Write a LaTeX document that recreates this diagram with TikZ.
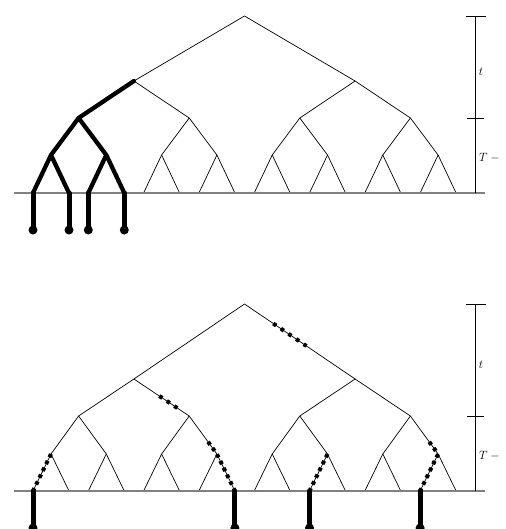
\documentclass[tikz,border=0pt]{standalone}
\usepackage{tikz}
\usetikzlibrary{calc}
\tikzset{
  % thin branch of the tree
  branch/.style={black, line width=0.7pt},
  % heavy line = followed family
  lineage/.style={black, line width=4.3pt, line join=round, line cap=round},
  % dotted heavy line = single lines of descent
  dotlineage/.style={black, line width=4pt, dash pattern=on 3.6pt off 4pt},
  % stem hanging below a leaf
  stem/.style={black, line width=5pt, line cap=round},
  tip/.style={circle, fill=black, inner sep=0pt, minimum size=9pt},
  ground/.style={black!50, line width=1.1pt},
  scalebar/.style={black, line width=0.7pt},
  scalelabel/.style={font=\fontsize{13}{15}\selectfont},
}
% binary tree of depth 4: #1 name prefix, #2..#6 heights of the levels
\newcommand{\bintree}[6]{%
  \coordinate (#1r) at (244.5,#2);
  \foreach \i in {0,1}
    \coordinate (#1a\i) at ({133.9+221.2*\i},#3);
  \foreach \i in {0,...,3}
    \coordinate (#1b\i) at ({78.6+110.6*\i},#4);
  \foreach \i in {0,...,7}
    \coordinate (#1c\i) at ({51+55.3*\i},#5);
  \foreach \i in {0,...,15}
    \coordinate (#1d\i) at ({51+55.3*int(\i/2)+36*mod(\i,2)-18},#6);
  \foreach \i in {0,1}
    \draw[branch] (#1r) -- (#1a\i);
  \foreach \i in {0,...,3}{
    \pgfmathtruncatemacro{\pidx}{\i/2}
    \draw[branch] (#1a\pidx) -- (#1b\i);}
  \foreach \i in {0,...,7}{
    \pgfmathtruncatemacro{\pidx}{\i/2}
    \draw[branch] (#1b\pidx) -- (#1c\i);}
  \foreach \i in {0,...,15}{
    \pgfmathtruncatemacro{\pidx}{\i/2}
    \draw[branch] (#1c\pidx) -- (#1d\i);}
  \draw[ground] (14,#6) -- (485,#6);
  % time scale on the right
  \draw[scalebar] (475,#2) -- (475,#6)
    (466,#2) -- (486,#2) (467,#4) -- (484,#4);
  \node[scalelabel] (#1t) at (481,{(#2+#4)/2+5}) {$t$};
  \node[scalelabel, anchor=west, inner sep=0pt] (#1T) at (479,{(#4+#6)/2+2}) {$T-{}$};
}

\begin{document}
\begin{tikzpicture}[x=1pt,y=-1pt]
  \useasboundingbox (0,0) rectangle (505,529);
  \bintree{u}{16}{81}{118}{155}{193}
  \bintree{w}{304}{379}{416}{454}{491}

  % upper tree: the whole family of one ancestor
  \draw[lineage] (ua0) -- (ub0) (ub0) -- (uc0) (ub0) -- (uc1)
    (uc0) -- (ud0) (uc0) -- (ud1) (uc1) -- (ud2) (uc1) -- (ud3);
  \foreach \i in {0,...,3}
    \draw[stem] (ud\i) -- ++(0,37) node[tip] (ut\i) {};

  % lower tree: scattered lines of descent
  \draw[dotlineage, dash pattern=on 3.6pt off 5.6pt]
    ($(wr)!0.26!(wa1)$) -- ($(wr)!0.56!(wa1)$);
  \draw[dotlineage, dash pattern=on 3.6pt off 5.4pt]
    ($(wa0)!0.46!(wb1)$) -- ($(wa0)!0.86!(wb1)$);
  \draw[dotlineage] ($(wb1)!0.68!(wc3)$) -- (wc3) -- (wd7);
  \draw[dotlineage] (wc0) -- (wd0);
  \draw[dotlineage] (wc5) -- (wd10);
  \draw[dotlineage] ($(wb3)!0.68!(wc7)$) -- (wc7) -- (wd14);
  \foreach \i in {0,7,10,14}
    \draw[stem] (wd\i) -- ++(0,37) node[tip] (wt\i) {};
\end{tikzpicture}
\end{document}
